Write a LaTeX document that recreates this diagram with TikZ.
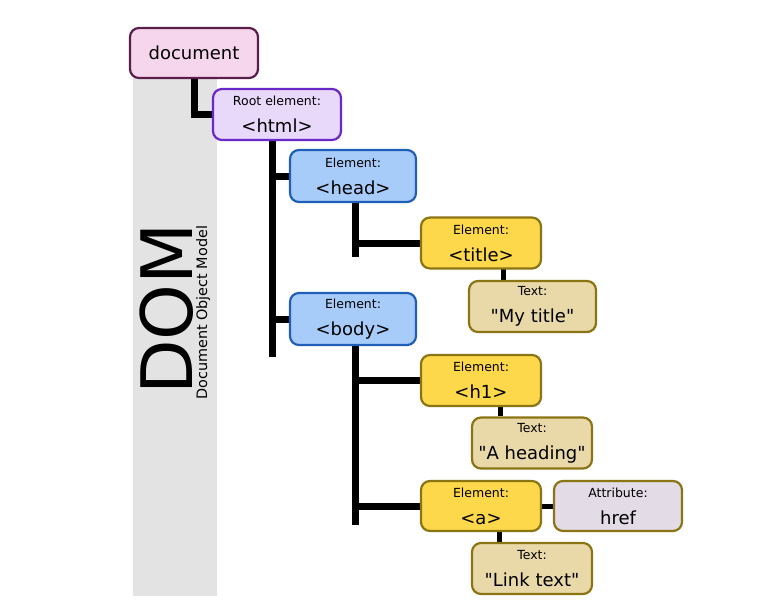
\documentclass[tikz,border=0pt]{standalone}
\usepackage{fontspec}
\setmainfont{DejaVu Sans}[Ligatures=TeXOff]
\usetikzlibrary{backgrounds}

\definecolor{bandgray}{HTML}{E3E3E3}
\definecolor{docfill}{HTML}{F6D6EC}
\definecolor{docline}{HTML}{5A1E4A}
\definecolor{rootfill}{HTML}{E8D8FA}
\definecolor{rootline}{HTML}{6A28C8}
\definecolor{nodefill}{HTML}{A8CCF9}
\definecolor{nodeline}{HTML}{1F5FB8}
\definecolor{elemfill}{HTML}{FDD84A}
\definecolor{elemline}{HTML}{8A7414}
\definecolor{leaffill}{HTML}{E9D9A8}
\definecolor{attrfill}{HTML}{E3DBE6}

\newcommand{\twolines}[2]{{\fontsize{12.5}{13}\selectfont #1}\\#2}

\tikzset{
  box/.style={draw, line width=2.2pt, rounded corners=9pt, minimum height=51pt,
    align=center, inner sep=0pt, font=\fontsize{18}{27}\selectfont},
  docbox/.style={box, fill=docfill, draw=docline, minimum width=128pt, minimum height=50pt},
  rootbox/.style={box, fill=rootfill, draw=rootline, minimum width=128pt},
  headbox/.style={box, fill=nodefill, draw=nodeline, minimum width=126pt, minimum height=52pt},
  elembox/.style={box, fill=elemfill, draw=elemline, minimum width=120pt},
  leafbox/.style={box, fill=leaffill, draw=elemline, minimum width=120pt},
  attrbox/.style={box, fill=attrfill, draw=elemline, minimum width=128pt},
  conn/.style={line width=7pt, black},
  leafconn/.style={line width=5pt, black}
}

\begin{document}
\begin{tikzpicture}[x=1pt, y=-1pt]
  \useasboundingbox (0,0) rectangle (783,611);

  % tree nodes
  \node[docbox] (doc) at (194,53) {document};
  \node[rootbox] (html) at (277,114.5) {\twolines{Root element:}{<html>}};
  \node[headbox] (head) at (353,176) {\twolines{Element:}{<head>}};
  \node[headbox] (body) at (353,319) {\twolines{Element:}{<body>}};
  \node[elembox] (title) at (481,243) {\twolines{Element:}{<title>}};
  \node[leafbox, minimum width=127pt] (mytitle) at (532.5,306.5) {\twolines{Text:}{"My title"}};
  \node[elembox] (h1) at (481,380.5) {\twolines{Element:}{<h1>}};
  \node[leafbox] (heading) at (532,443) {\twolines{Text:}{"A heading"}};
  \node[elembox, minimum height=50pt] (a) at (481,506) {\twolines{Element:}{<a>}};
  \node[attrbox, minimum height=50pt] (href) at (618,506) {\twolines{Attribute:}{href}};
  \node[leafbox] (link) at (532,568.5) {\twolines{Text:}{"Link text"}};

  % trunk ends
  \coordinate (htrunk) at (272,357);
  \coordinate (hdtrunk) at (355,257);
  \coordinate (btrunk) at (355,525);

  \begin{scope}[on background layer]
    % grey band with the title
    \fill[bandgray] (133,60) rectangle (217,596);
    \node[rotate=90, anchor=base west, inner sep=0pt, font=\fontsize{71}{71}\selectfont] (domlabel) at (192,395) {DOM};
    \node[rotate=90, anchor=base west, inner sep=0pt, font=\fontsize{14.4}{15}\selectfont] (dommodel) at (207,400) {Document Object Model};

    % connectors
    \draw[conn] (doc) |- (html.west);
    \draw[conn] (htrunk |- html) -- (htrunk);
    \draw[conn] (head.west) -- (head.west -| htrunk);
    \draw[conn] (body.west) -- (body.west -| htrunk);
    \draw[conn] (hdtrunk |- head) -- (hdtrunk);
    \draw[conn] (title.west) -- (title.west -| hdtrunk);
    \draw[conn] (btrunk |- body) -- (btrunk);
    \draw[conn] (h1.west) -- (h1.west -| btrunk);
    \draw[conn] (a.west) -- (a.west -| btrunk);
    \draw[leafconn] ([xshift=22pt]title.center) -- ([xshift=22pt]title.center |- mytitle.north);
    \draw[leafconn] ([xshift=19pt]h1.center) -- ([xshift=19pt]h1.center |- heading.north);
    \draw[leafconn] ([xshift=18pt]a.center) -- ([xshift=18pt]a.center |- link.north);
    \draw[leafconn] (a) -- (href);
  \end{scope}
\end{tikzpicture}
\end{document}
